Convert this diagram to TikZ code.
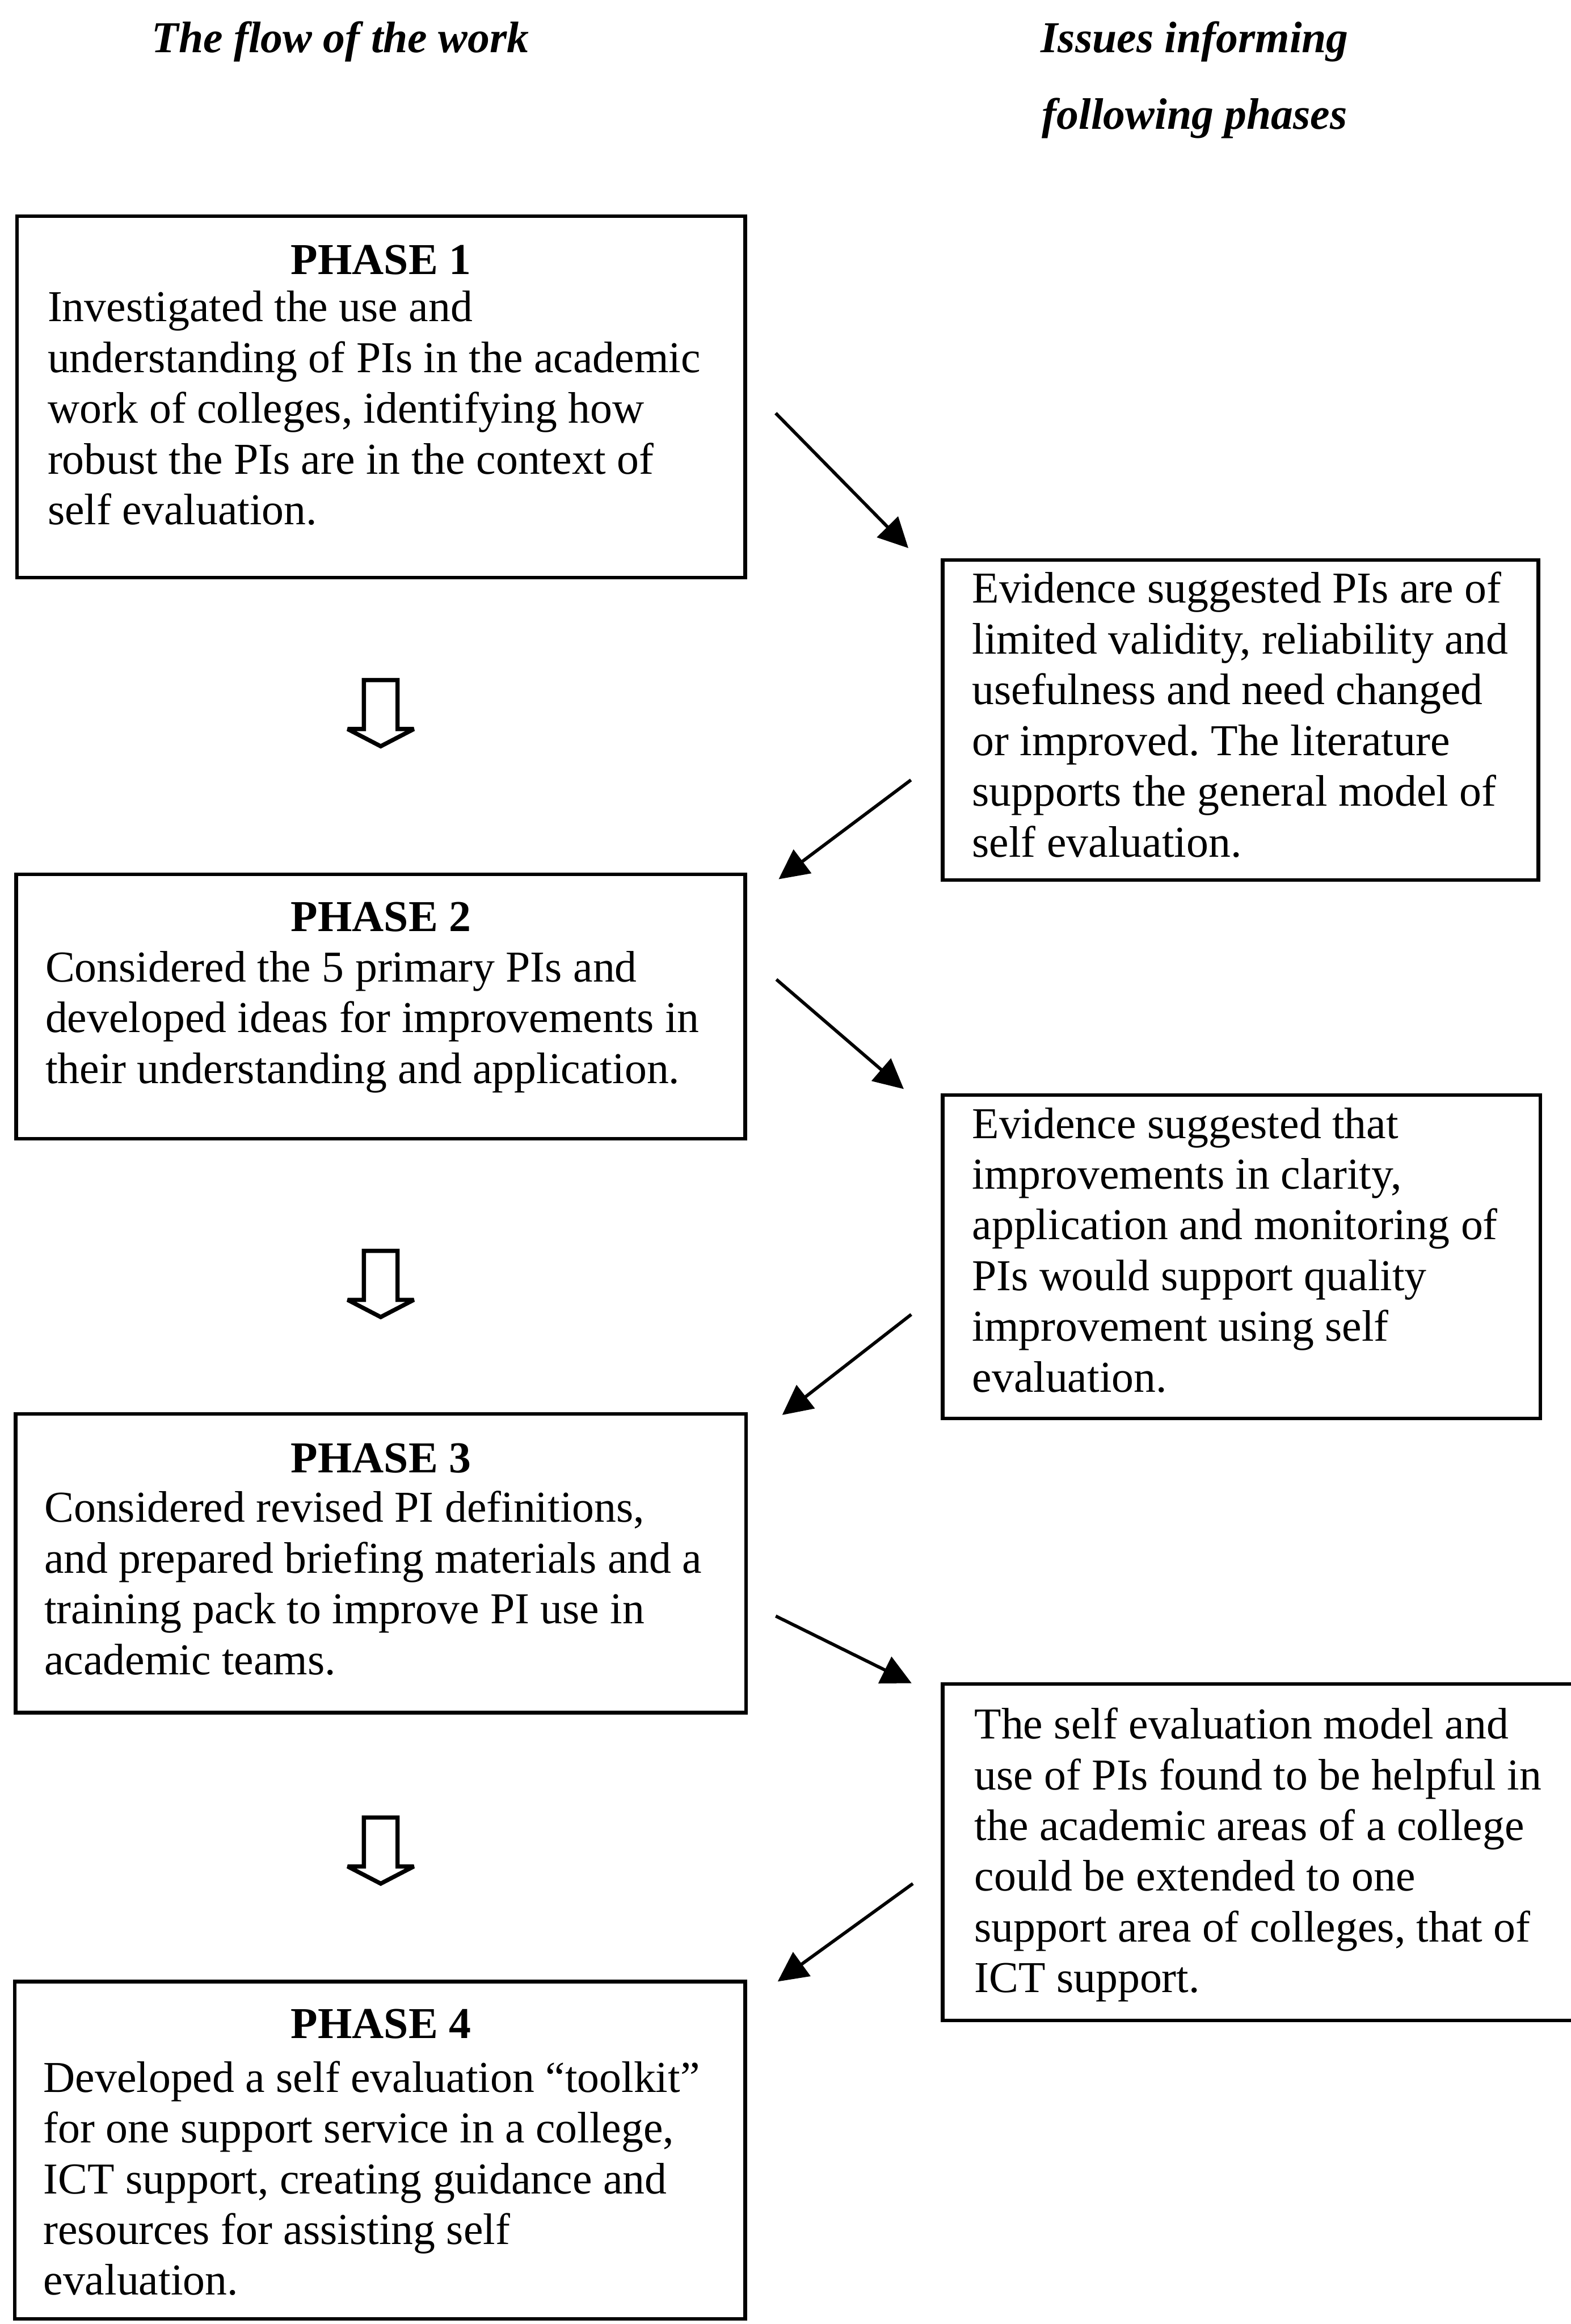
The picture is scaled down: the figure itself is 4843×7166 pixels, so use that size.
\documentclass[tikz,border=0pt]{standalone}
\usepackage{fontspec}
\setmainfont{Liberation Serif}
\usetikzlibrary{arrows.meta,fit}
\frenchspacing
\begin{document}
\begin{tikzpicture}[x=0.1pt,y=-0.1pt,
  box/.style={draw, line width=1.1pt, inner sep=0pt},
  body/.style={anchor=north west, inner sep=0pt, align=left, font=\fontsize{13.6}{15.65}\selectfont},
  phead/.style={anchor=base, inner sep=0pt, font=\fontsize{13.6}{15.65}\selectfont\bfseries},
  colhead/.style={inner sep=0pt, align=center, font=\fontsize{13.6}{23.6}\selectfont\bfseries\itshape},
  conn/.style={line width=1pt, -{Triangle[length=9.2pt,width=9pt]}},
  hollowarrow/.pic={\draw[line width=1.3pt, miter limit=2] (-52,0) -- (52,0) -- (52,151) -- (102,151) -- (0,204) -- (-102,151) -- (-52,151) -- cycle;}
]
\useasboundingbox[fill=white] (0,0) rectangle (4843,7166);

% column headings
\node[colhead, anchor=base] (hdrL) at (1050,161) {The flow of the work};
\node[colhead, anchor=north] (hdrR) at (3684,-6) {\strut Issues informing\\following phases};

% phase boxes
\node[box, fit={(52,666) (2298,1781)}] (p1) {};
\node[box, fit={(50,2696) (2298,3511)}] (p2) {};
\node[box, fit={(48,4360) (2300,5281)}] (p3) {};
\node[box, fit={(46,6110) (2298,7150)}] (p4) {};

\node[phead] (p1h) at (1175,845) {PHASE 1};
\node[body] (p1t) at (145,880) {\strut Investigated the use and\\
understanding of PIs in the academic\\
work of colleges, identifying how\\
robust the PIs are in the context of\\
self evaluation.};

\node[phead] (p2h) at (1175,2871) {PHASE 2};
\node[body] (p2t) at (138,2916) {\strut Considered the 5 primary PIs and\\
developed ideas for improvements in\\
their understanding and application.};

\node[phead] (p3h) at (1175,4541) {PHASE 3};
\node[body] (p3t) at (135,4582) {\strut Considered revised PI definitions,\\
and prepared briefing materials and a\\
training pack to improve PI use in\\
academic teams.};

\node[phead] (p4h) at (1175,6285) {PHASE 4};
\node[body] (p4t) at (132,6339) {\strut Developed a self evaluation “toolkit”\\
for one support service in a college,\\
ICT support, creating guidance and\\
resources for assisting self\\
evaluation.};

% issue boxes
\node[box, fit={(2907,1727) (4744,2714)}] (r1) {};
\node[box, fit={(2907,3377) (4750,4374)}] (r2) {};
\node[box, fit={(2907,5192) (4870,6230)}] (r3) {};

\node[body] (r1t) at (2996,1748) {\strut Evidence suggested PIs are of\\
limited validity, reliability and\\
usefulness and need changed\\
or improved. The literature\\
supports the general model of\\
self evaluation.};

\node[body] (r2t) at (2996,3398) {\strut Evidence suggested that\\
improvements in clarity,\\
application and monitoring of\\
PIs would support quality\\
improvement using self\\
evaluation.};

\node[body] (r3t) at (3003,5250) {\strut The self evaluation model and\\
use of PIs found to be helpful in\\
the academic areas of a college\\
could be extended to one\\
support area of colleges, that of\\
ICT support.};

% hollow down arrows
\pic (ha1) at (1174,2097) {hollowarrow};
\pic (ha2) at (1174,3857) {hollowarrow};
\pic (ha3) at (1174,5604) {hollowarrow};

% diagonal connectors
\coordinate (a1s) at (2392,1274); \coordinate (a1e) at (2801,1690);
\coordinate (a2s) at (2809,2405); \coordinate (a2e) at (2401,2711);
\coordinate (a3s) at (2394,3020); \coordinate (a3e) at (2787,3358);
\coordinate (a4s) at (2810,4053); \coordinate (a4e) at (2412,4363);
\coordinate (a5s) at (2392,4983); \coordinate (a5e) at (2811,5190);
\coordinate (a6s) at (2815,5808); \coordinate (a6e) at (2398,6110);
\draw[conn] (a1s) -- (a1e);
\draw[conn] (a2s) -- (a2e);
\draw[conn] (a3s) -- (a3e);
\draw[conn] (a4s) -- (a4e);
\draw[conn] (a5s) -- (a5e);
\draw[conn] (a6s) -- (a6e);
\end{tikzpicture}
\end{document}
